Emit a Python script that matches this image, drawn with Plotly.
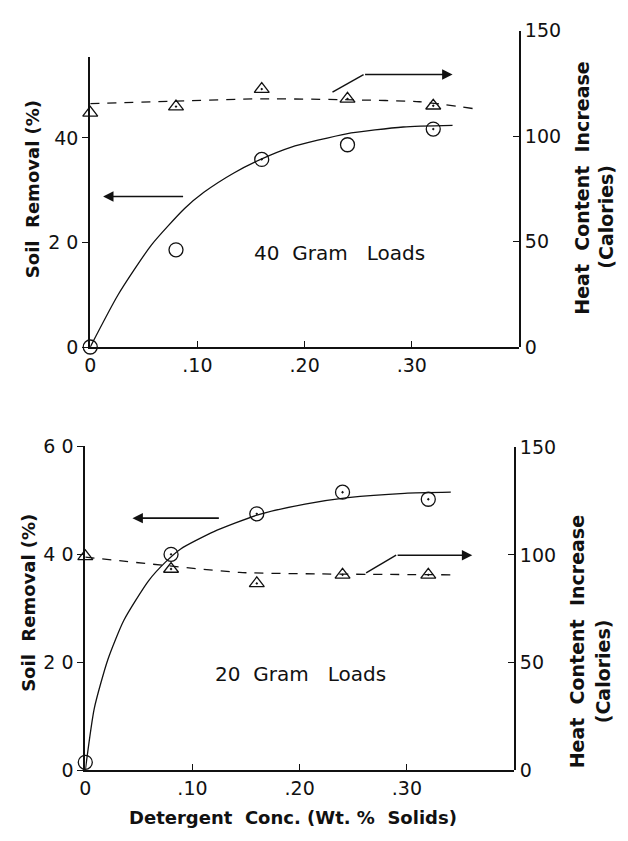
import plotly.graph_objects as go

# page is 628x841 with an 8px body margin; figure sized to fit inside it
PAGE_W, PAGE_H = 628, 841
OFF = 8
W, H = PAGE_W - 2 * OFF, PAGE_H - 2 * OFF

# ---------------- data: top panel (40 gram loads) ----------------
conc = [0, 0.08, 0.16, 0.24, 0.32]
soil40 = [0, 18.6, 35.9, 38.7, 41.7]
heat40 = [111, 114, 122.3, 117.7, 114.4]
soil40_sym = ["circle-open", "circle-open", "circle-open-dot", "circle-open", "circle-open-dot"]
heat40_sym = ["triangle-up-open", "triangle-up-open-dot", "triangle-up-open-dot", "triangle-up-open-dot", "triangle-up-open-dot"]
fit40_x = [0, 0.026, 0.057, 0.088, 0.106, 0.134, 0.159, 0.187, 0.239, 0.292, 0.338]
fit40_y = [0, 10, 19.5, 26.5, 29.6, 33.3, 35.9, 38.2, 40.8, 42.1, 42.4]
dash40_x = [0, 0.08, 0.159, 0.245, 0.307, 0.358]
dash40_y = [115.4, 116.6, 117.7, 117.2, 116.3, 113]

# ---------------- data: bottom panel (20 gram loads) ----------------
soil20 = [1.5, 40, 47.5, 51.5, 50.2]
heat20 = [99.4, 93.5, 86.8, 90.8, 90.8]
soil20_sym = ["circle-open", "circle-open-dot", "circle-open-dot", "circle-open-dot", "circle-open-dot"]
heat20_sym = ["triangle-up-open", "triangle-up-open-dot", "triangle-up-open-dot", "triangle-up-open-dot", "triangle-up-open-dot"]
fit20_x = [0, 0.0084, 0.021, 0.036, 0.059, 0.075, 0.089, 0.12, 0.161, 0.205, 0.245, 0.298, 0.341]
fit20_y = [0, 11.5, 20.5, 27.8, 35.1, 38.6, 41.0, 44.2, 47.3, 49.3, 50.5, 51.3, 51.5]
dash20_x = [0, 0.077, 0.144, 0.22, 0.345]
dash20_y = [99, 95, 91.9, 91.2, 90.8]

# ticks
x_tickvals = [0, 0.1, 0.2, 0.3]
x_ticktext = ["0", ".10", ".20", ".30"]
left_top_vals = [0, 20, 40]
left_top_text = ["0", "2 0", "40"]
left_bot_vals = [0, 20, 40, 60]
left_bot_text = ["0", "2 0", "4 0", "6 0"]
right_vals = [0, 50, 100, 150]
right_text = ["0", "50", "100", "150"]

# arrows (tail -> bend -> head)
arr40_left = dict(x0=0.088, x1=0.012, y=28.8)
arr40_right = dict(xs=[0.226, 0.255], ys=[120.9, 129.2], xh=0.338)
arr20_left = dict(x0=0.126, x1=0.044, y=46.7)
arr20_right = dict(xs=[0.262, 0.29], ys=[91.7, 99.9], xh=0.361)

FONT = "DejaVu Sans"
BLACK = "#111"
NB = "\u00a0"

fig = go.Figure()

def add_panel(xa, ya_l, ya_r, soil, soil_sym, heat, heat_sym, fx, fy, dx, dy):
    fig.add_trace(go.Scatter(x=fx, y=fy, mode="lines", line=dict(color=BLACK, width=1.3, shape="spline", smoothing=0.6),
                             xaxis=xa, yaxis=ya_l, showlegend=False, hoverinfo="skip"))
    fig.add_trace(go.Scatter(x=dx, y=dy, mode="lines", line=dict(color=BLACK, width=1.3, dash="9px,8px", shape="spline", smoothing=0.6),
                             xaxis=xa, yaxis=ya_r, showlegend=False, hoverinfo="skip"))
    fig.add_trace(go.Scatter(x=conc, y=soil, mode="markers",
                             marker=dict(symbol=soil_sym, size=14, color=BLACK, line=dict(width=1.3, color=BLACK)),
                             xaxis=xa, yaxis=ya_l, showlegend=False, cliponaxis=False))
    fig.add_trace(go.Scatter(x=conc, y=heat, mode="markers",
                             marker=dict(symbol=heat_sym, size=13, color=BLACK, line=dict(width=1.3, color=BLACK)),
                             xaxis=xa, yaxis=ya_r, showlegend=False, cliponaxis=False))

add_panel("x", "y", "y2", soil40, soil40_sym, heat40, heat40_sym, fit40_x, fit40_y, dash40_x, dash40_y)
add_panel("x2", "y3", "y4", soil20, soil20_sym, heat20, heat20_sym, fit20_x, fit20_y, dash20_x, dash20_y)

# bent parts of right arrows
for a, xa, ya in [(arr40_right, "x", "y2"), (arr20_right, "x2", "y4")]:
    fig.add_trace(go.Scatter(x=a["xs"], y=a["ys"], mode="lines", line=dict(color=BLACK, width=1.4),
                             xaxis=xa, yaxis=ya, showlegend=False, hoverinfo="skip"))

tickfont = dict(family=FONT, size=19, color=BLACK)
common_x = dict(range=[0, 0.40], tickvals=x_tickvals, ticktext=x_ticktext, ticks="inside", ticklen=6,
                tickcolor=BLACK, showline=True, linecolor=BLACK, linewidth=2, showgrid=False, zeroline=False,
                tickfont=tickfont, fixedrange=True)
common_y = dict(showline=True, linecolor=BLACK, linewidth=2, showgrid=False, zeroline=False,
                tickfont=tickfont, tickcolor=BLACK, ticklen=6, fixedrange=True)

def px_x(p):
    return (p - OFF) / W

def px_y(p):
    return (H - (p - OFF)) / H

fig.update_layout(
    width=W, height=H, margin=dict(l=0, r=0, t=0, b=0),
    paper_bgcolor="white", plot_bgcolor="rgba(0,0,0,0)",
    xaxis=dict(domain=[px_x(85), px_x(518)], anchor="y", **common_x),
    yaxis=dict(domain=[px_y(345), px_y(47)], range=[0, 55.5], anchor="x", side="left",
               tickvals=left_top_vals, ticktext=left_top_text, ticks="outside", **common_y),
    yaxis2=dict(domain=[px_y(345), px_y(20)], range=[0, 150], anchor="x", side="right",
                tickvals=right_vals, ticktext=right_text, ticks="inside", **common_y),
    xaxis2=dict(domain=[px_x(80), px_x(513)], anchor="y3", **common_x),
    yaxis3=dict(domain=[px_y(780), px_y(447)], range=[0, 60], anchor="x2", side="left",
                tickvals=left_bot_vals, ticktext=left_bot_text, ticks="outside", **common_y),
    yaxis4=dict(domain=[px_y(780), px_y(448)], range=[0, 150], anchor="x2", side="right",
                tickvals=right_vals, ticktext=right_text, ticks="inside", **common_y),
)

ann = []
for a, xr, yr in [(arr40_left, "x", "y"), (arr20_left, "x2", "y3")]:
    ann.append(dict(x=a["x1"], y=a["y"], ax=a["x0"], ay=a["y"], xref=xr, yref=yr, axref=xr, ayref=yr,
                    text="", showarrow=True, arrowhead=2, arrowsize=1.3, arrowwidth=1.6, arrowcolor=BLACK))
for a, xr, yr in [(arr40_right, "x", "y2"), (arr20_right, "x2", "y4")]:
    ann.append(dict(x=a["xh"], y=a["ys"][1], ax=a["xs"][1], ay=a["ys"][1], xref=xr, yref=yr, axref=xr, ayref=yr,
                    text="", showarrow=True, arrowhead=2, arrowsize=1.3, arrowwidth=1.6, arrowcolor=BLACK))

lab = dict(family=FONT, size=20, color=BLACK)
load_text = "{}" + NB * 2 + "Gram" + NB * 3 + "Loads"
ann.append(dict(x=0.233, y=18, xref="x", yref="y", xanchor="center", yanchor="middle",
                text=load_text.format("40"), showarrow=False, font=lab))
ann.append(dict(x=0.201, y=17.8, xref="x2", yref="y3", xanchor="center", yanchor="middle",
                text=load_text.format("20"), showarrow=False, font=lab))

def vtitle(x, y, text, size):
    ann.append(dict(x=px_x(x), y=px_y(y), xref="paper", yref="paper", xanchor="center", yanchor="middle",
                    text="<b>" + text + "</b>", textangle=-90, showarrow=False,
                    font=dict(family=FONT, size=size, color=BLACK)))

soil_title = "Soil" + NB * 2 + "Removal (%)"
heat_title = "Heat" + NB * 2 + "Content" + NB * 2 + "Increase"
cal_title = "(Calories)"
vtitle(27, 183, soil_title, 18)
vtitle(582, 182, heat_title, 19)
vtitle(605, 211, cal_title, 19)
vtitle(22, 608, soil_title, 18)
vtitle(577, 648, heat_title, 19)
vtitle(603, 678, cal_title, 19)
ann.append(dict(x=px_x(290), y=px_y(828), xref="paper", yref="paper", xanchor="center", yanchor="middle",
                text="<b>Detergent" + NB * 2 + "Conc. (Wt. %" + NB * 2 + "Solids)</b>", showarrow=False,
                font=dict(family=FONT, size=18, color=BLACK)))

fig.update_layout(annotations=ann)
fig.write_html("out.html")
